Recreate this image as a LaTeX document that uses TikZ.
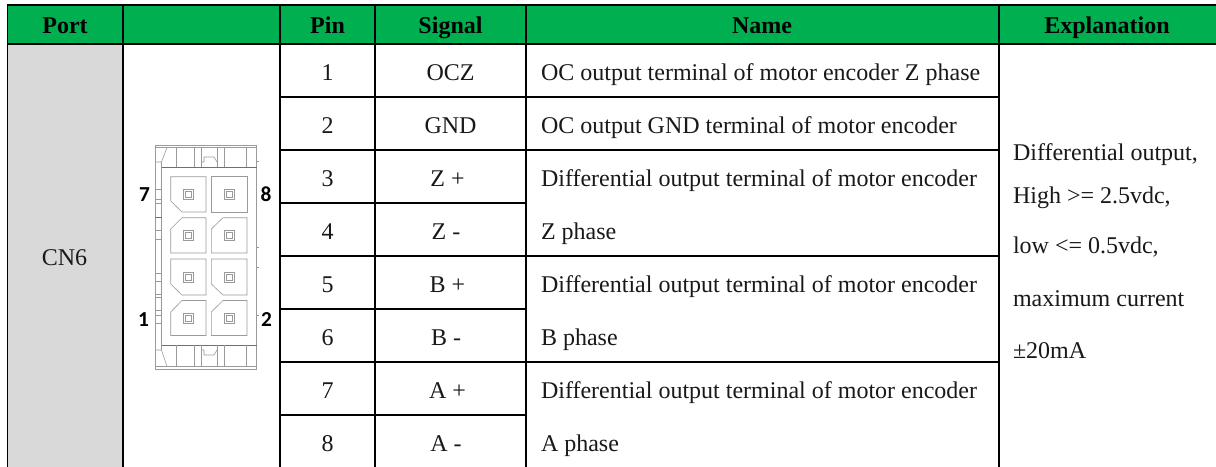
\documentclass[tikz,border=0pt]{standalone}
\usepackage{fontspec}
\setmainfont{Liberation Serif}
\newfontfamily\labfont{Carlito}
\definecolor{hdr}{HTML}{00B050}
\definecolor{portbg}{HTML}{D9D9D9}
\definecolor{cgray}{HTML}{9A9A9A}
\definecolor{cdark}{HTML}{707070}
\tikzset{
  txt/.style={inner sep=0pt,outer sep=0pt,font=\fontsize{18pt}{21pt}\selectfont,text=black!90},
  ctr/.style={txt,anchor=base},
  lft/.style={txt,anchor=base west},
  hd/.style={ctr,font=\fontsize{18pt}{21pt}\selectfont\bfseries,text=black},
  rule/.style={line width=1.05pt,black,line cap=rect},
  conn/.style={line width=0.45pt,cgray},
  connd/.style={line width=0.5pt,cdark},
  lab/.style={inner sep=0pt,anchor=base,font=\fontsize{16pt}{18pt}\selectfont\labfont\bfseries,text=black},
}
\begin{document}
\begin{tikzpicture}[x=0.75pt,y=-0.75pt]
\useasboundingbox (0,0) rectangle (1216,467);
\fill[white] (0,0) rectangle (1216,467);
\fill[hdr] (7.5,5) rectangle (1216,44);
\fill[portbg] (7.5,44) rectangle (123,467);
% grid
\draw[rule] (7.5,5) -- (1216,5);
\draw[rule] (7.5,44) -- (1216,44);
\foreach \x in {7.5,123,280,375,526,999} \draw[rule,line cap=butt] (\x,5) -- (\x,467);
\draw[rule] (280,97) -- (999,97);
\draw[rule] (280,150) -- (999,150);
\draw[rule] (280,203) -- (526,203);
\draw[rule] (280,256) -- (999,256);
\draw[rule] (280,309) -- (526,309);
\draw[rule] (280,362) -- (999,362);
\draw[rule] (280,415) -- (526,415);
% header
\node[hd] (hport) at (65,33.5) {Port};
\node[hd] (hpin) at (327.5,33.5) {Pin};
\node[hd] (hsig) at (450.5,33.5) {Signal};
\node[hd] (hname) at (762,33.5) {Name};
\node[hd] (hexp) at (1107,33.5) {Explanation};
\node[ctr] (cn) at (64.5,265) {CN6};
% pins
\node[ctr] (p1) at (327.5,80) {1};
\node[ctr] (p2) at (327.5,133) {2};
\node[ctr] (p3) at (327.5,186) {3};
\node[ctr] (p4) at (327.5,239) {4};
\node[ctr] (p5) at (327.5,292) {5};
\node[ctr] (p6) at (327.5,345) {6};
\node[ctr] (p7) at (327.5,398) {7};
\node[ctr] (p8) at (327.5,451) {8};
% signals
\node[ctr] (s1) at (450.5,80) {OCZ};
\node[ctr] (s2) at (450.5,133) {GND};
\node[ctr] (s3) at (447.5,186) {Z +};
\node[ctr] (s4) at (446,239) {Z -};
\node[ctr] (s5) at (447.5,292) {B +};
\node[ctr] (s6) at (446,345) {B -};
\node[ctr] (s7) at (447.5,398) {A +};
\node[ctr] (s8) at (446,451.5) {A -};
% names
\node[lft] (n1) at (541,80) {OC output terminal of motor encoder Z phase};
\node[lft] (n2) at (541,133) {OC output GND terminal of motor encoder};
\node[lft] (n3) at (541,186) {Differential output terminal of motor encoder};
\node[lft] (n4) at (541,239) {Z phase};
\node[lft] (n5) at (541,292) {Differential output terminal of motor encoder};
\node[lft] (n6) at (541,345) {B phase};
\node[lft] (n7) at (541,398) {Differential output terminal of motor encoder};
\node[lft] (n8) at (541,451) {A phase};
% explanation
\node[lft] (e1) at (1013,160) {Differential output,};
\node[lft] (e2) at (1013,203) {High >= 2.5vdc,};
\node[lft] (e3) at (1013,253) {low <= 0.5vdc,};
\node[lft] (e4) at (1013,306) {maximum current};
\node[lft] (e5) at (1013,358) {±20mA};
% connector outline
\draw[conn] (155,145) -- (256.5,145) (155,147.5) -- (256.5,147.5);
\draw[conn] (155,369) -- (256.5,369) (155,366.5) -- (256.5,366.5);
\draw[conn] (155,145) -- (155,369) (256.5,145) -- (256.5,369);
\draw[conn] (161.5,162) -- (161.5,350);
\draw[connd] (161.5,167) -- (256.5,167) (161.5,345) -- (256.5,345);
\draw[conn] (155,162) -- (161.5,162) -- (167,147.5);
\draw[conn] (155,350) -- (161.5,350) -- (167,366.5);
\foreach \x in {176,194,201,217,224,246} {
  \draw[conn] (\x,147.5) -- (\x,167);
  \draw[conn] (\x,345) -- (\x,366.5);
}
\draw[conn] (201,162) -- (204,162) -- (204,157) -- (214,157) -- (217,162);
\draw[conn] (201,350) -- (204,350) -- (204,355) -- (214,355) -- (217,350);
% left ticks
\foreach \y in {189,199,203,230,239,273,281,294,297,310,315,323}
  \draw[conn] (155,\y) -- (161.5,\y);
\draw[connd] (155,217) -- (161.5,217);
% right ticks
\foreach \y in {161,247,267,315}
  \draw[conn] (256.5,\y) -- (258.5,\y);
% contacts
\newcommand{\pinsq}[2]{%
  \draw[conn] (#1-5,#2-5) rectangle (#1+5,#2+5);
  \draw[conn] (#1-3,#2-3) rectangle (#1+3,#2+3);
}
\draw[conn] (170.7,176.7) -- (206,176.7) -- (206,212) -- (182,212) -- (170.7,201) -- cycle;
\draw[conn] (211.3,176.7) rectangle (247,212);
\draw[conn] (182,217.7) -- (206,217.7) -- (206,253) -- (170.7,253) -- (170.7,229) -- cycle;
\draw[conn] (223,217.7) -- (247,217.7) -- (247,253) -- (211.3,253) -- (211.3,229) -- cycle;
\draw[conn] (170.7,259) -- (206,259) -- (206,295) -- (182,295) -- (170.7,284) -- cycle;
\draw[conn] (211.3,259) -- (247,259) -- (247,295) -- (223,295) -- (211.3,284) -- cycle;
\draw[conn] (182,300.5) -- (206,300.5) -- (206,335.5) -- (170.7,335.5) -- (170.7,312) -- cycle;
\draw[conn] (223,300.5) -- (247,300.5) -- (247,335.5) -- (211.3,335.5) -- (211.3,312) -- cycle;
\foreach \y in {194.5,235.5,277,318.5} {
  \pinsq{188.5}{\y}
  \pinsq{229.5}{\y}
}
\node[lab] (l7) at (144.5,201) {7};
\node[lab] (l8) at (266,201) {8};
\node[lab] (l1) at (143.5,326) {1};
\node[lab] (l2) at (266.5,326) {2};
\end{tikzpicture}
\end{document}
